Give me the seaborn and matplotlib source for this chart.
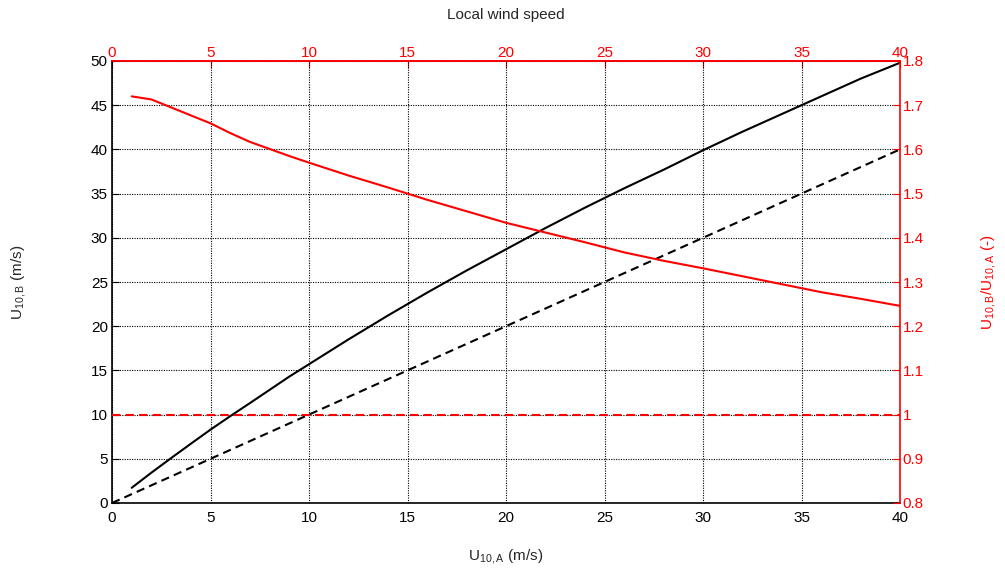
import numpy as np
import pandas as pd
import matplotlib
matplotlib.use("Agg")
import matplotlib.pyplot as plt
import seaborn as sns

# Data
u10a = [1, 2, 3, 4, 5, 6, 7, 8, 9, 10, 12, 14, 16, 18, 20, 22, 24, 26, 28, 30, 32, 34, 36, 38, 40]
u10b = [1.72, 3.43, 5.08, 6.70, 8.30, 9.82, 11.3, 12.8, 14.3, 15.7, 18.5, 21.2, 23.8, 26.3, 28.7,
        31.1, 33.4, 35.6, 37.7, 39.9, 42.0, 44.0, 46.0, 48.0, 49.8]
ratio = [1.720, 1.713, 1.695, 1.677, 1.659, 1.637, 1.617, 1.601, 1.585, 1.570, 1.541, 1.514, 1.486,
         1.460, 1.434, 1.412, 1.390, 1.367, 1.348, 1.331, 1.313, 1.295, 1.277, 1.262, 1.246]
ref_x = [0, 40]
ref_y = [0, 40]
unity = [1.0, 1.0]

sns.set_style("white")
plt.rcParams['font.family'] = ['Liberation Sans', 'DejaVu Sans']
plt.rcParams['mathtext.fontset'] = 'custom'
plt.rcParams['mathtext.rm'] = 'Liberation Sans'
plt.rcParams['mathtext.it'] = 'Liberation Sans'

FS = 11
fig = plt.figure(figsize=(10.05, 5.78), dpi=100)
ax = fig.add_axes([112/1005, 75/578, 788/1005, 442/578])

df = pd.DataFrame({"a": u10a, "b": u10b, "r": ratio})
dref = pd.DataFrame({"x": ref_x, "y": ref_y, "u": unity})

sns.lineplot(data=df, x="a", y="b", ax=ax, color="black", lw=1.5)
sns.lineplot(data=dref, x="x", y="y", ax=ax, color="black", lw=1.5, linestyle=(0, (4, 2.5)))
ax.set_xlim(0, 40)
ax.set_ylim(0, 50)
ax.set_xticks(np.arange(0, 41, 5))
ax.set_yticks(np.arange(0, 51, 5))
ax.grid(True, color="black", linestyle=(0, (1, 1.2)), lw=0.8)
ax.tick_params(direction="in", length=5, labelsize=FS, colors="black", pad=3)
ax.tick_params(axis="x", pad=6)
ax.set_xlabel("U$_{10,A}$ (m/s)", fontsize=FS)
ax.set_ylabel("U$_{10,B}$ (m/s)", fontsize=FS)
ax.xaxis.set_label_coords(0.5, -0.10)
ax.yaxis.set_label_coords(-0.107, 0.5)
for s in ["left", "bottom"]:
    ax.spines[s].set_color("black")
    ax.spines[s].set_linewidth(1.2)

ax2 = ax.twinx()
sns.lineplot(data=df, x="a", y="r", ax=ax2, color="red", lw=1.5)
sns.lineplot(data=dref, x="x", y="u", ax=ax2, color="red", lw=1.5, linestyle=(0, (4, 2.5)))
ax2.set_ylim(0.8, 1.8)
ax2.set_yticks(np.round(np.arange(0.8, 1.81, 0.1), 1))
ax2.set_yticklabels(["0.8", "0.9", "1", "1.1", "1.2", "1.3", "1.4", "1.5", "1.6", "1.7", "1.8"])
ax2.tick_params(axis="y", direction="in", length=5, labelsize=FS, colors="red", pad=2)
ax2.set_ylabel("U$_{10,B}$/U$_{10,A}$ (-)", fontsize=FS, color="red")
ax2.yaxis.set_label_coords(1.10, 0.5)
ax2.set_xlabel("")
ax2.grid(False)
ax2.spines["right"].set_color("red")
ax2.spines["top"].set_color("red")
ax2.spines["right"].set_linewidth(1.2)
ax2.spines["top"].set_linewidth(1.2)
ax2.spines["left"].set_visible(False)
ax2.spines["bottom"].set_visible(False)
ax.spines["top"].set_visible(False)
ax.spines["right"].set_visible(False)

top = ax.secondary_xaxis("top")
top.set_xticks(np.arange(0, 41, 5))
top.tick_params(direction="in", length=5, labelsize=FS, colors="red", pad=1)
top.spines["top"].set_color("red")
top.spines["top"].set_linewidth(1.2)
top.set_xlabel("Local wind speed", fontsize=FS, labelpad=19)

fig.savefig("out.png", dpi=100)
